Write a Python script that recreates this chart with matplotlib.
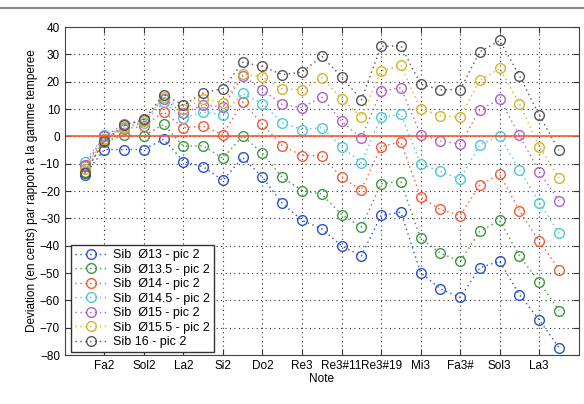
import numpy as np
import matplotlib
matplotlib.use("Agg")
import matplotlib.pyplot as plt
from matplotlib.lines import Line2D

plt.rcParams['font.family'] = ['Liberation Sans', 'DejaVu Sans']

# note index 1..25, ticks every second note
notes = np.arange(1, 26)
tick_pos = [2, 4, 6, 8, 10, 12, 14, 16, 18, 20, 22, 24]
tick_labels = ["Fa2", "Sol2", "La2", "Si2", "Do2", "Re3", "Re3#11", "Re3#19",
               "Mi3", "Fa3#", "Sol3", "La3"]

sib13 = [-14, -4.8, -4.8, -4.8, -1, -9.2, -11.1, -16.1, -7.7, -15, -24.5, -30.7, -33.8,
         -40, -43.7, -28.9, -27.7, -49.8, -55.8, -58.9, -48, -45.7, -57.9, -67.1, -77.3]
sib135 = [-13, -2, 0.5, 0.2, 4.4, -3.6, -3.4, -8, 0.2, -6.2, -15, -19.8, -21.1,
          -28.6, -33.2, -17.3, -16.5, -37.3, -42.7, -45.7, -34.7, -30.7, -43.7, -53.2, -63.7]
sib14 = [-11, -1, 2.8, 3.7, 8.9, 3.2, 3.7, 0.7, 12.6, 4.4, -3.4, -7, -7,
         -15, -19.5, -3.7, -2, -22.2, -26.7, -29, -17.7, -13.9, -27.1, -38.4, -48.7]
sib145 = [-9.5, 0.5, 3, 5, 12.5, 6.8, 8.9, 8, 15.7, 12, 5, 2.5, 3.2,
          -3.7, -9.6, 7, 8.2, -10.1, -12.8, -15.7, -3, 0, -12.2, -24.2, -35.3]
sib15 = [-10.5, 0, 4.4, 6, 13.8, 8.5, 11.5, 10.8, 22.2, 17, 11.7, 10.5, 14.4,
         5.5, -0.6, 16.6, 17.8, 0.7, -1.7, -2.7, 9.7, 13.7, 0.4, -12.9, -23.6]
sib155 = [-12, -1, 3.5, 5.5, 14.3, 10, 13.7, 12.4, 22.8, 21.7, 17.4, 17, 21.5,
          13.7, 7.2, 23.9, 26, 10, 7.5, 7.2, 20.5, 24.9, 12, -3.7, -15.2]
sib16 = [-13.5, -1.5, 4, 6.2, 15.3, 11.4, 15.9, 17.5, 27.1, 25.6, 22.6, 23.5, 29.3,
         21.8, 13.4, 32.9, 33.2, 19.1, 17.1, 17.1, 31, 35.1, 22.2, 7.8, -5.1]

series = [sib13, sib135, sib14, sib145, sib15, sib155, sib16]
labels = ["Sib  \u00d813 - pic 2", "Sib  \u00d813.5 - pic 2", "Sib  \u00d814 - pic 2",
          "Sib  \u00d814.5 - pic 2", "Sib  \u00d815 - pic 2", "Sib  \u00d815.5 - pic 2",
          "Sib 16 - pic 2"]
colors = ["#2b4fcf", "#3b993b", "#f05a3a", "#4ec6d8", "#b060c8", "#d4b428", "#555555"]

fig = plt.figure(figsize=(5.84, 4.04), dpi=100)
ax = fig.add_axes([0.111, 0.121, 0.880, 0.812])

for vals, lab, col in zip(series, labels, colors):
    ax.plot(notes, vals, linestyle=(0, (1, 2.5)), linewidth=1.0, color=col, marker='o',
            markersize=7, markerfacecolor='none', markeredgecolor=col,
            markeredgewidth=1.0, label=lab)

ax.axhline(0, color="#ff5533", linewidth=1.2)

ax.set_xlim(0, 26)
ax.set_ylim(-80, 40)
ax.set_yticks(np.arange(-80, 41, 10))
ax.set_xticks(tick_pos)
ax.set_xticklabels(tick_labels)
ax.tick_params(direction='in', top=True, right=True, labelsize=8.5, length=4,
               color="#333333")
ax.grid(True, linestyle=(0, (1, 3)), color="#333333", linewidth=0.8)
for sp in ax.spines.values():
    sp.set_color("#444444")

ax.set_xlabel("Note", fontsize=8.5, labelpad=1)
ax.set_ylabel("Deviation (en cents) par rapport a la gamme temperee", fontsize=8.5,
              labelpad=1)

leg = ax.legend(loc='lower left', bbox_to_anchor=(0.012, 0.01), fontsize=9,
                fancybox=False, edgecolor="#333333", framealpha=1,
                handlelength=2.6, borderpad=0.3, labelspacing=0.2,
                handletextpad=0.5, borderaxespad=0)
leg.get_frame().set_linewidth(1.0)

fig.add_artist(Line2D([0, 1], [0.98, 0.98], color="#888888", linewidth=1.5,
                      transform=fig.transFigure))

plt.savefig("out.png", dpi=100)
plt.close()
